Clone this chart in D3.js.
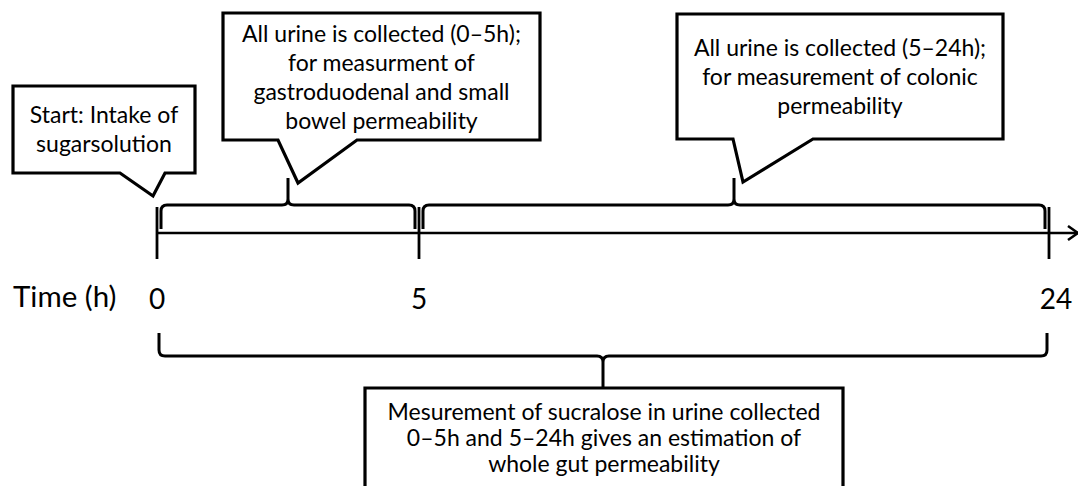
<!DOCTYPE html>
<html>
<head>
<meta charset="utf-8">
<script src="https://cdn.jsdelivr.net/npm/d3@7"></script>
<style>
  body { margin: 0; background: #fff; }
  svg { display: block; }
  text { font-family: Lato, "Open Sans", sans-serif; fill: #000; }
</style>
</head>
<body>
<div id="chart"></div>
<script>
// time points on the axis (hours) and the labels under them
var tickValues = [0, 5, 24];
var tickLabels = ['0', '5', '24'];
var axisTitle = 'Time (h)';

// collection periods shown with braces over the axis
var periods = [[0, 5], [5, 24]];
var wholePeriod = [0, 24];

// callout texts
var startNote = ['Start: Intake of', 'sugarsolution'];
var periodNotes = [
  ['All urine is collected (0\u20135h);', 'for measurment of', 'gastroduodenal and small', 'bowel permeability'],
  ['All urine is collected (5\u201324h);', 'for measurement of colonic', 'permeability']
];
var wholeNote = ['Mesurement of sucralose in urine collected', '0\u20135h and 5\u201324h gives an estimation of', 'whole gut permeability'];

var w = 1078, h = 486;
var axisY = 233;

var svg = d3.select('#chart').append('svg')
  .attr('width', w)
  .attr('height', h);

// time axis is not to scale, so the scale has one segment per period
var x = d3.scaleLinear()
  .domain(tickValues)
  .range([157, 419, 1049]);

// curly brace: ends go to yEnd, middle point goes to yTip
var brace = function(x1, x2, yLine, yEnd, yTip) {
  var r = 6;
  var dir = yEnd > yLine ? 1 : -1;
  var xm = (x1 + x2) / 2;
  var p = d3.path();
  p.moveTo(x1, yEnd);
  p.lineTo(x1, yLine + dir * r);
  p.quadraticCurveTo(x1, yLine, x1 + r, yLine);
  p.lineTo(xm - r, yLine);
  p.quadraticCurveTo(xm, yLine, xm, yLine - dir * r);
  p.lineTo(xm, yTip);
  p.moveTo(xm, yLine - dir * r);
  p.quadraticCurveTo(xm, yLine, xm + r, yLine);
  p.lineTo(x2 - r, yLine);
  p.quadraticCurveTo(x2, yLine, x2, yLine + dir * r);
  p.lineTo(x2, yEnd);
  return p.toString();
};

// box with a pointer on its bottom edge
var callout = function(b) {
  var p = d3.path();
  p.moveTo(b.left, b.top);
  p.lineTo(b.right, b.top);
  p.lineTo(b.right, b.bottom);
  if (b.tip) {
    p.lineTo(b.p2, b.bottom);
    p.lineTo(b.tip[0], b.tip[1]);
    p.lineTo(b.p1, b.bottom);
  }
  p.lineTo(b.left, b.bottom);
  p.closePath();
  return p.toString();
};

var drawNote = function(b, lines) {
  svg.append('path')
    .attr('d', callout(b))
    .attr('fill', '#fff')
    .attr('stroke', '#000')
    .attr('stroke-width', 3.2)
    .attr('stroke-linejoin', 'miter');
  svg.append('g').selectAll('text')
    .data(lines)
    .enter().append('text')
    .attr('x', (b.left + b.right) / 2)
    .attr('y', function(d, i) { return b.firstLine + i * b.lineGap; })
    .attr('text-anchor', 'middle')
    .attr('dominant-baseline', 'middle')
    .style('font-size', b.size + 'px')
    .text(function(d) { return d; });
};

// axis line with arrow
svg.append('line')
  .attr('x1', x(0)).attr('x2', w + 2)
  .attr('y1', axisY).attr('y2', axisY)
  .attr('stroke', '#000').attr('stroke-width', 2.6);
svg.append('path')
  .attr('d', 'M' + (w - 10) + ',' + (axisY - 7) + 'L' + w + ',' + axisY + 'L' + (w - 10) + ',' + (axisY + 7))
  .attr('fill', 'none').attr('stroke', '#000').attr('stroke-width', 2.6);

svg.append('g').selectAll('line')
  .data(tickValues)
  .enter().append('line')
  .attr('x1', function(d) { return x(d); })
  .attr('x2', function(d) { return x(d); })
  .attr('y1', axisY - 26)
  .attr('y2', axisY + 26)
  .attr('stroke', '#000')
  .attr('stroke-width', 2.8);

svg.append('g').selectAll('text')
  .data(tickValues)
  .enter().append('text')
  .attr('x', function(d, i) { return x(d) + (i == 2 ? 7 : 0); })
  .attr('y', 302)
  .attr('text-anchor', 'middle')
  .attr('dominant-baseline', 'middle')
  .style('font-size', '28px')
  .text(function(d, i) { return tickLabels[i]; });

svg.append('text')
  .attr('x', 13)
  .attr('y', 300)
  .attr('dominant-baseline', 'middle')
  .style('font-size', '29.5px')
  .text(axisTitle);

// braces over the two collection periods
svg.append('g').selectAll('path')
  .data(periods)
  .enter().append('path')
  .attr('d', function(d) { return brace(x(d[0]) + 4, x(d[1]) - 4, 205, 229, 178); })
  .attr('fill', 'none')
  .attr('stroke', '#000')
  .attr('stroke-width', 3);

// brace under the whole period
svg.append('path')
  .attr('d', brace(x(wholePeriod[0]) + 2, x(wholePeriod[1]) - 2, 356, 333, 388))
  .attr('fill', 'none')
  .attr('stroke', '#000')
  .attr('stroke-width', 3);

drawNote({ left: 13, top: 86, right: 195, bottom: 173, p1: 120, p2: 165, tip: [x(0) - 4, 196],
  firstLine: 117, lineGap: 29, size: 23 }, startNote);

drawNote({ left: 223, top: 13, right: 540, bottom: 140, p1: 278, p2: 357, tip: [298, 183],
  firstLine: 36, lineGap: 29, size: 23 }, periodNotes[0]);

drawNote({ left: 677, top: 14, right: 1003, bottom: 139, p1: 733, p2: 813, tip: [743, 182],
  firstLine: 50, lineGap: 29, size: 23 }, periodNotes[1]);

drawNote({ left: 365, top: 388, right: 843, bottom: 500,
  firstLine: 414, lineGap: 26, size: 23 }, wholeNote);
</script>
</body>
</html>
